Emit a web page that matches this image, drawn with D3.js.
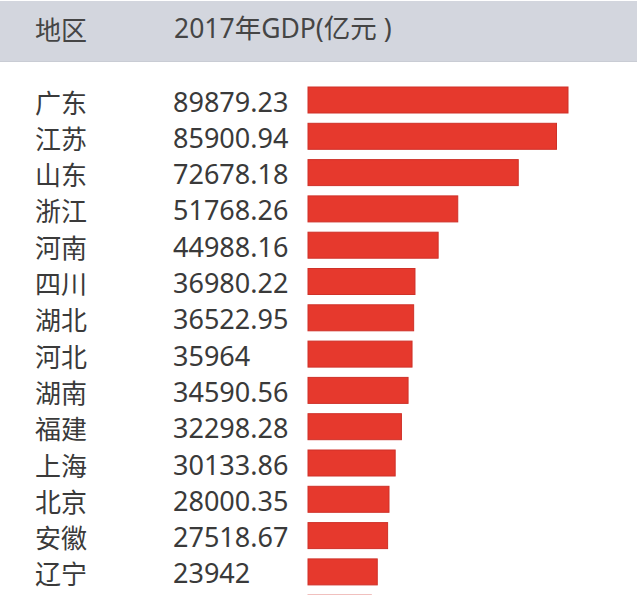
<!DOCTYPE html>
<html>
<head>
<meta charset="utf-8">
<script src="https://cdn.jsdelivr.net/npm/d3@7"></script>
<style>
  html, body { margin: 0; padding: 0; background: #ffffff; }
  svg { display: block; }
</style>
</head>
<body>
<div id="chart"></div>
<script>
const regions = ["广东","江苏","山东","浙江","河南","四川","湖北","河北","湖南","福建","上海","北京","安徽","辽宁","陕西"];
const gdpLabels = ["89879.23","85900.94","72678.18","51768.26","44988.16","36980.22","36522.95","35964","34590.56","32298.28","30133.86","28000.35","27518.67","23942","21898.81"];
const gdpValues = [89879.23,85900.94,72678.18,51768.26,44988.16,36980.22,36522.95,35964,34590.56,32298.28,30133.86,28000.35,27518.67,23942,21898.81];
const headers = ["地区", "2017年GDP(亿元 )"];

const W = 640, H = 595;
const svg = d3.select("#chart").append("svg").attr("width", W).attr("height", H);

// header band
svg.append("rect").attr("x", 0).attr("y", 1).attr("width", 637).attr("height", 60)
  .attr("fill", "#d3d6de");
svg.append("line").attr("x1", 0).attr("x2", 637).attr("y1", 61.5).attr("y2", 61.5)
  .attr("stroke", "#c9ccd4").attr("stroke-width", 1);

const txtColor = "#3a3a3a";
const font = "'Noto Sans', 'Noto Sans CJK SC', sans-serif";

svg.append("text").attr("x", 35).attr("y", 28).attr("dominant-baseline", "central")
  .attr("font-family", "'Noto Sans CJK SC', sans-serif").attr("font-size", 26)
  .attr("fill", "#454545").text(headers[0]);
svg.append("text").attr("x", 174).attr("y", 28).attr("dominant-baseline", "central")
  .attr("font-family", font).attr("font-size", 26.5)
  .attr("fill", "#454545").text(headers[1]);

const y = d3.scalePoint().domain(regions).range([100, 100 + 36.3 * (regions.length - 1)]);
const x = d3.scaleLinear().domain([0, d3.max(gdpValues)]).range([308, 568]);
const barH = 26;

const rows = svg.selectAll("g.row").data(regions).join("g").attr("class", "row");

rows.append("rect")
  .attr("x", x(0))
  .attr("y", d => y(d) - barH / 2)
  .attr("width", (d, i) => x(gdpValues[i]) - x(0))
  .attr("height", barH)
  .attr("fill", "#e6392d")
  .attr("stroke", "#cf3128")
  .attr("stroke-width", 1);

// labels only for rows whose text lies inside the picture (last row is cut by the frame)
const visible = rows.filter(d => y(d) + 14 <= H);

visible.append("text")
  .attr("x", 35).attr("y", d => y(d) + 1)
  .attr("dominant-baseline", "central")
  .attr("font-family", "'Noto Sans CJK SC', sans-serif").attr("font-size", 26)
  .attr("fill", txtColor).text(d => d);

visible.append("text")
  .attr("x", 173).attr("y", d => y(d) + 1)
  .attr("dominant-baseline", "central")
  .attr("font-family", font).attr("font-size", 27)
  .attr("fill", txtColor).text(d => gdpLabels[regions.indexOf(d)]);
</script>
</body>
</html>
